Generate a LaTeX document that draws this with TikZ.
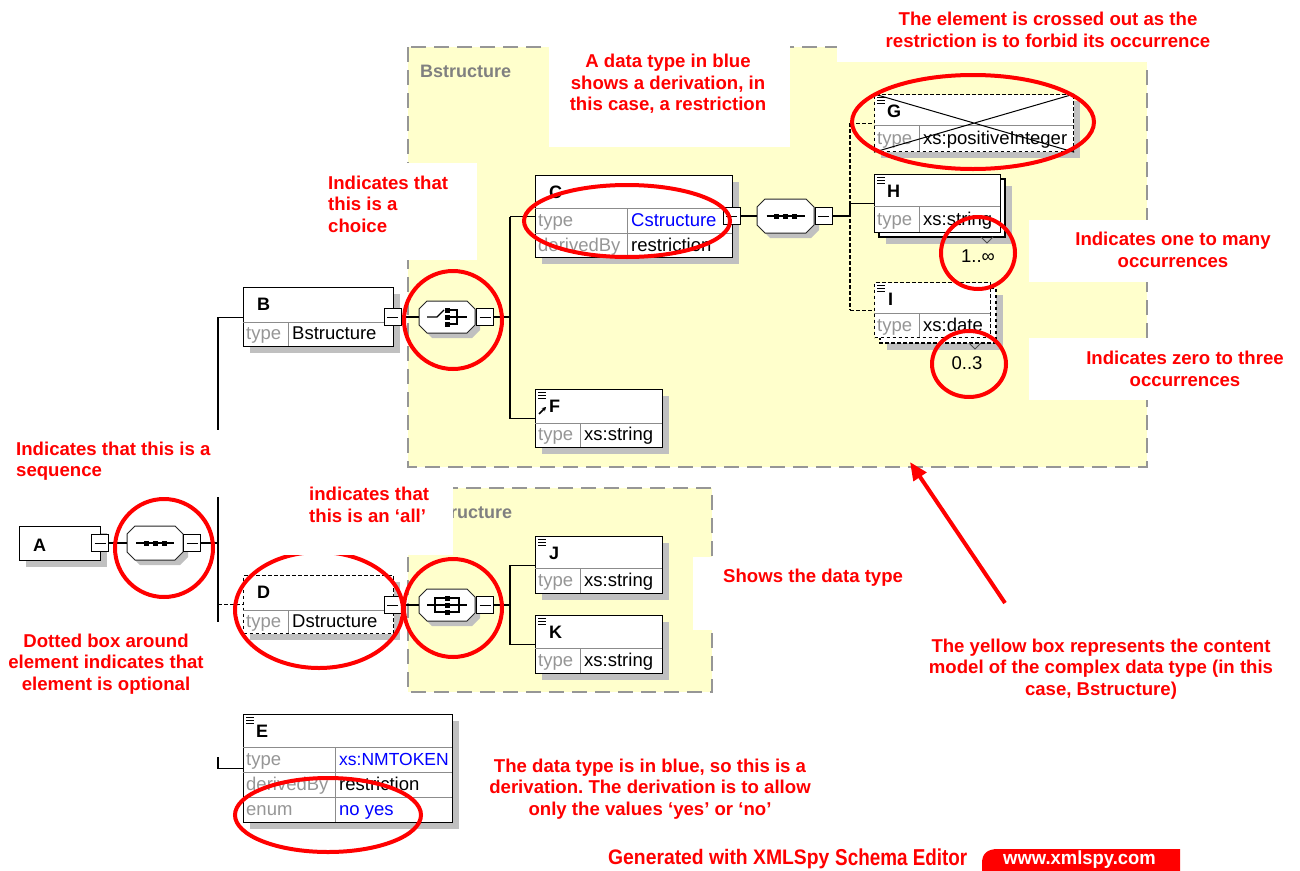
\documentclass[tikz,border=0pt]{standalone}
\usepackage{fontspec}
\usepackage{graphicx}
\setmainfont{Liberation Sans}
\usetikzlibrary{arrows.meta}
\frenchspacing
\definecolor{annred}{RGB}{255,0,0}
\definecolor{yel}{RGB}{255,255,204}
\definecolor{shd}{RGB}{192,192,192}
\definecolor{lblgray}{RGB}{150,150,150}
\definecolor{framegray}{RGB}{150,150,150}
\definecolor{ctgray}{RGB}{128,128,128}
\definecolor{dtblue}{RGB}{0,0,255}
\newcommand{\notefont}{\fontsize{18.6}{21.5}\selectfont\bfseries}
\newcommand{\dfont}{\fontsize{18.5}{20}\selectfont}
\newcommand{\dtitle}{\fontsize{18}{20}\selectfont\bfseries}
\newcommand{\octpath}[4]{(#1+8,#2) -- (#3-8,#2) -- (#3,#2+8) -- (#3,#4-8) -- (#3-8,#4) -- (#1+8,#4) -- (#1,#4-8) -- (#1,#2+8) -- cycle}
\newcommand{\eqicon}[2]{\draw[line width=1.1pt] (#1+3,#2+3.5) -- ++(8,0) (#1+3,#2+6.5) -- ++(8,0) (#1+3,#2+9.5) -- ++(8,0);}
\newcommand{\seqsym}[2]{%
  \draw[line width=1.2pt] (#1-19,#2) -- (#1+19,#2);
  \foreach \dx in {-9,0,9} {\fill (#1+\dx-2.5,#2-2.5) rectangle ++(5,5);}}
\newcommand{\chsym}[2]{%
  \draw[line width=1.2pt] (#1-20,#2) -- (#1-10,#2) -- (#1-3,#2-7);
  \draw[line width=1.2pt] (#1,#2-7) -- (#1+10,#2-7) -- (#1+10,#2+7) -- (#1,#2+7);
  \draw[line width=1.2pt] (#1,#2) -- (#1+20,#2);
  \foreach \dy in {-7,0,7} {\fill (#1-2.5,#2+\dy-2.5) rectangle ++(5,5);}}
\newcommand{\allsym}[2]{%
  \draw[line width=1.2pt] (#1-20,#2) -- (#1+20,#2);
  \draw[line width=1.2pt] (#1-2,#2-7) -- (#1-12,#2-7) -- (#1-12,#2+7) -- (#1-2,#2+7);
  \draw[line width=1.2pt] (#1+2,#2-7) -- (#1+12,#2-7) -- (#1+12,#2+7) -- (#1+2,#2+7);
  \foreach \dy in {-7,0,7} {\fill (#1-2.5,#2+\dy-2.5) rectangle ++(5,5);}}
\begin{document}
\begin{tikzpicture}[x=1pt,y=-1pt,
  elem/.style={draw=black, line width=1.2pt, fill=white, inner sep=0pt, anchor=north west},
  optelem/.style={elem, dash pattern=on 3.5pt off 2.5pt},
  backbox/.style={draw=black, line width=1.2pt, fill=white},
  div/.style={draw=black!45, line width=1pt},
  conn/.style={draw=black, line width=1.2pt},
  optconn/.style={conn, dash pattern=on 3.5pt off 2.5pt},
  minusbox/.style={draw=black, fill=white, line width=1pt, minimum width=17pt, minimum height=17pt, inner sep=0pt,
    path picture={\draw[line width=1pt] ([xshift=3pt]path picture bounding box.west) -- ([xshift=-3pt]path picture bounding box.east);}},
  octo/.style={draw=black!85, fill=white, line width=1pt},
  comp/.style={draw=none, inner sep=0pt},
  ttl/.style={font=\dtitle, anchor=base west, inner sep=0pt},
  lab/.style={font=\dfont, anchor=base west, inner sep=0pt},
  glab/.style={lab, text=lblgray},
  blab/.style={lab, text=dtblue},
  occ/.style={font=\dfont, inner sep=0pt},
  ring/.style={draw=annred, line width=4pt},
  frame/.style={draw=framegray, line width=1.6pt, dash pattern=on 15pt off 8pt},
  ctlabel/.style={anchor=base west, inner sep=0pt, font=\dtitle, text=ctgray},
  note/.style={text=annred, font=\notefont, align=center, inner sep=0pt},
  notel/.style={note, align=left, anchor=west}]
\useasboundingbox (0,0) rectangle (1300,870);
\clip (0,0) rectangle (1300,870);
\fill[white] (0,0) rectangle (1300,870);

% ---------- content-model boxes ----------
\fill[yel] (408,47) rectangle (1147,467);
\draw[frame] (408,47) rectangle (1147,467);
\fill[yel] (408,488) rectangle (712,692);
\draw[frame] (408,488) rectangle (712,692);
\node[ctlabel] (bsl) at (420,77) {Bstructure};
\node[ctlabel] (dsl) at (421,518) {Dstructure};

% ---------- A ----------
\fill[shd] (26,533) rectangle (107,567);
\node[elem, minimum width=81, minimum height=34] (A) at (19,526) {};
\node[ttl] (At) at (33,551) {A};
\node[minusbox] (Am) at (100,543) {};

\fill[shd, shift={(5,5)}] \octpath{127}{526}{183}{560};
\draw[octo] \octpath{127}{526}{183}{560};
\node[comp, minimum width=56, minimum height=34] (sA) at (155,543) {};
\seqsym{155}{543}
\node[minusbox] (sAm) at (192,543) {};

% ---------- B ----------
\fill[shd] (250,294) rectangle (400,353);
\node[elem, minimum width=150, minimum height=59] (B) at (243,287) {};
\draw[div] (243,322) -- (393,322) (288,322) -- (288,346);
\node[ttl] (Bt) at (257,310) {B};
\node[glab] (Bl) at (246,339) {type};
\node[lab] (Bv) at (292,339) {Bstructure};
\node[minusbox] (Bm) at (392.5,317) {};

\fill[shd, shift={(5,5)}] \octpath{419}{301}{475}{333};
\draw[octo] \octpath{419}{301}{475}{333};
\node[comp, minimum width=56, minimum height=32] (chB) at (447,317) {};
\chsym{447}{317}
\node[minusbox] (chBm) at (485,317) {};

% ---------- C ----------
\fill[shd] (542,182) rectangle (739,264);
\node[elem, minimum width=197, minimum height=82] (C) at (535,175) {};
\draw[div] (535,208) -- (732,208) (535,233) -- (732,233) (627,208) -- (627,257);
\node[ttl] (Ct) at (549,198) {C};
\node[glab] (Cl1) at (538,226) {type};
\node[blab] (Cv1) at (631,226) {Cstructure};
\node[glab] (Cl2) at (538,251) {derivedBy};
\node[lab] (Cv2) at (631,251) {restriction};
\node[minusbox] (Cm) at (731.5,216) {};

\fill[shd, shift={(5,5)}] \octpath{757}{199}{814}{233};
\draw[octo] \octpath{757}{199}{814}{233};
\node[comp, minimum width=57, minimum height=34] (sC) at (785.5,216) {};
\seqsym{785.5}{216}
\node[minusbox] (sCm) at (823.5,216) {};

% ---------- G ----------
\fill[shd] (881,101) rectangle (1080,158);
\node[optelem, minimum width=199, minimum height=57] (G) at (874,94) {};
\draw[div] (874,125) -- (1073,125) (919,125) -- (919,151);
\eqicon{874}{94}
\node[ttl] (Gt) at (887,117) {G};
\node[glab] (Gl) at (877,144) {type};
\node[lab] (Gv) at (923,144) {xs:positiveInteger};
\draw[line width=1pt] (G.north west) -- (G.south east) (G.south west) -- (G.north east);

% ---------- H ----------
\fill[shd] (886,186) rectangle (1012,244);
\draw[backbox] (879,179) rectangle (1005,237);
\node[elem, minimum width=126, minimum height=58] (H) at (874,174) {};
\draw[div] (874,206) -- (1000,206) (919,206) -- (919,232);
\eqicon{874}{174}
\node[ttl] (Ht) at (887,197) {H};
\node[glab] (Hl) at (877,225) {type};
\node[lab] (Hv) at (923,225) {xs:string};
\draw[line width=1pt, black!70] (981,237) -- (987,243) -- (993,237);
\node[occ] (Ho) at (978,256) {1..∞};

% ---------- I ----------
\fill[shd] (887,295) rectangle (1003,350);
\draw[backbox, dash pattern=on 3.5pt off 2.5pt] (880,288) rectangle (996,343);
\node[optelem, minimum width=116, minimum height=55] (I) at (874,282) {};
\draw[div] (874,313) -- (990,313) (919,313) -- (919,337);
\eqicon{874}{282}
\node[ttl] (It) at (888,305) {I};
\node[glab] (Il) at (877,331) {type};
\node[lab] (Iv) at (923,331) {xs:date};
\draw[line width=1pt, black!70] (969,343) -- (975,349) -- (981,343);
\node[occ] (Io) at (967,363) {0..3};

% ---------- F ----------
\fill[shd] (542,396) rectangle (669,454);
\node[elem, minimum width=127, minimum height=58] (F) at (535,389) {};
\draw[div] (535,423) -- (662,423) (580,423) -- (580,447);
\eqicon{535}{389}
\draw[line width=1.6pt, -{Stealth[length=4pt,width=4.5pt]}] (539,414) -- (546,407);
\node[ttl] (Ft) at (549,412) {F};
\node[glab] (Fl) at (538,440) {type};
\node[lab] (Fv) at (584,440) {xs:string};

% ---------- D ----------
\fill[shd] (250,582) rectangle (400,640);
\node[optelem, minimum width=150, minimum height=58] (D) at (243,575) {};
\draw[div] (243,610) -- (393,610) (288,610) -- (288,633);
\node[ttl] (Dt) at (257,598) {D};
\node[glab] (Dl) at (246,627) {type};
\node[lab] (Dv) at (292,627) {Dstructure};
\node[minusbox] (Dm) at (392.5,605) {};

\fill[shd, shift={(5,5)}] \octpath{419}{589}{475}{621};
\draw[octo] \octpath{419}{589}{475}{621};
\node[comp, minimum width=56, minimum height=32] (chD) at (447,605) {};
\allsym{447}{605}
\node[minusbox] (chDm) at (485,605) {};

% ---------- J, K ----------
\fill[shd] (542,543) rectangle (669,600);
\node[elem, minimum width=127, minimum height=57] (J) at (535,536) {};
\draw[div] (535,568) -- (662,568) (580,568) -- (580,593);
\eqicon{535}{536}
\node[ttl] (Jt) at (549,559) {J};
\node[glab] (Jl) at (538,586) {type};
\node[lab] (Jv) at (584,586) {xs:string};

\fill[shd] (542,622) rectangle (669,680);
\node[elem, minimum width=127, minimum height=58] (K) at (535,615) {};
\draw[div] (535,648) -- (662,648) (580,648) -- (580,673);
\eqicon{535}{615}
\node[ttl] (Kt) at (549,638) {K};
\node[glab] (Kl) at (538,666) {type};
\node[lab] (Kv) at (584,666) {xs:string};

% ---------- E ----------
\fill[shd] (250,721) rectangle (459,829);
\node[elem, minimum width=209, minimum height=108] (E) at (243,714) {};
\draw[div] (243,747) -- (452,747) (243,772) -- (452,772) (243,797) -- (452,797) (335,747) -- (335,822);
\eqicon{243}{714}
\node[ttl] (Et) at (256,737) {E};
\node[glab] (El1) at (246,765) {type};
\node[blab, font=\fontsize{17.5}{20}\selectfont] (Ev1) at (339,765) {xs:NMTOKEN};
\node[glab] (El2) at (246,790) {derivedBy};
\node[lab] (Ev2) at (339,790) {restriction};
\node[glab] (El3) at (246,815) {enum};
\node[blab] (Ev3) at (339,815) {no yes};

% ---------- connectors ----------
\coordinate (tA) at (218,317);
\coordinate (tB) at (510,317);
\coordinate (tD) at (510,605);
\coordinate (tC) at (850,216);
\draw[conn] (Am.east) -- (sA.west);
\draw[conn] (sAm.east) -- (sAm.east -| tA);
\draw[conn] (B.west -| tA) -- (E.west -| tA);
\draw[conn] (B.west -| tA) -- (B.west);
\draw[optconn] (D.west -| tA) -- (D.west);
\draw[conn] (E.west -| tA) -- (E.west);

\draw[conn] (Bm.east) -- (chB.west);
\draw[conn] (chBm.east) -- (tB);
\draw[conn] (C.west -| tB) -- (F.west -| tB);
\draw[conn] (C.west -| tB) -- (C.west);
\draw[conn] (F.west -| tB) -- (F.west);

\draw[conn] (Dm.east) -- (chD.west);
\draw[conn] (chDm.east) -- (tD);
\draw[conn] (J.west -| tD) -- (K.west -| tD);
\draw[conn] (J.west -| tD) -- (J.west);
\draw[conn] (K.west -| tD) -- (K.west);

\draw[conn] (Cm.east) -- (sC.west);
\draw[conn] (sCm.east) -- (tC);
\draw[optconn] (G.west -| tC) -- (I.west -| tC);
\draw[conn] (tC) -- (H.west -| tC) -- (H.west);
\draw[optconn] (G.west -| tC) -- (G.west);
\draw[optconn] (I.west -| tC) -- (I.west);

% ---------- red rings ----------
\draw[ring] (973,122) ellipse [x radius=121, y radius=47];
\draw[ring] (978,253) ellipse [x radius=37, y radius=36];
\draw[ring] (969,364) ellipse [x radius=37, y radius=33];
\draw[ring] (627,221) ellipse [x radius=103, y radius=36];
\draw[ring] (453,320) circle [radius=49];
\draw[ring] (453,608) circle [radius=49];
\draw[ring] (164,548) circle [radius=49];
\draw[ring] (319,610) ellipse [x radius=84, y radius=58];
\draw[ring] (328,815) ellipse [x radius=93, y radius=37];

% ---------- white note backgrounds ----------
\fill[white] (837,0) rectangle (1300,62);
\fill[white] (549,30) rectangle (790,147);
\fill[white] (320,163) rectangle (477,260);
\fill[white] (1029,220) rectangle (1300,282);
\fill[white] (1029,338) rectangle (1300,400);
\fill[white] (0,430) rectangle (225,497);
\fill[white] (283,480) rectangle (453,555);
\fill[white] (693,557) rectangle (910,630);
\fill[white] (0,622) rectangle (230,757);

% ---------- notes ----------
\node[note] (n1) at (1048,30) {The element is crossed out as the\\restriction is to forbid its occurrence};
\node[note] (n2) at (668,84) {A data type in blue\\shows a derivation, in\\this case, a restriction};
\node[notel] (n3) at (328,204) {Indicates that\\this is a\\choice};
\node[note] (n4) at (1173,250) {Indicates one to many\\occurrences};
\node[note] (n5) at (1185,369) {Indicates zero to three\\occurrences};
\node[notel] (n6) at (16,461) {Indicates that this is a\\sequence};
\node[notel] (n7) at (309,505) {indicates that\\this is an ‘all’};
\node[notel] (n8) at (723,578) {Shows the data type};
\node[note] (n9) at (106,664) {Dotted box around\\element indicates that\\element is optional};
\node[note] (n10) at (1101,669) {The yellow box represents the content\\model of the complex data type (in this\\case, Bstructure)};
\node[note] (n11) at (650,789) {The data type is in blue, so this is a\\derivation. The derivation is to allow\\only the values ‘yes’ or ‘no’};

\coordinate (arrTail) at (1005,603);
\coordinate (arrTip) at (910,462);
\draw[annred, line width=4pt, -{Triangle[length=18pt,width=15pt]}] (arrTail) -- (arrTip);

% ---------- footer ----------
\node[anchor=base west, inner sep=0pt, text=annred, font=\fontsize{21}{21}\selectfont\bfseries] (gen) at (608,864) {\scalebox{0.92}[1]{Generated with XMLSpy}};
\node[anchor=base west, inner sep=0pt, text=annred, font=\fontsize{23}{23}\selectfont\bfseries] (sed) at (835,865) {\scalebox{0.82}[1]{Schema Editor}};
\fill[annred] (982,880) -- (982,863) .. controls (982,853) and (988,849) .. (998,849) -- (1180,849) -- (1180,880) -- cycle;
\node[anchor=base west, inner sep=0pt, text=white, font=\fontsize{19}{19}\selectfont\bfseries] (www) at (1003,864) {\scalebox{0.97}[1]{www.xmlspy.com}};
\end{tikzpicture}
\end{document}
